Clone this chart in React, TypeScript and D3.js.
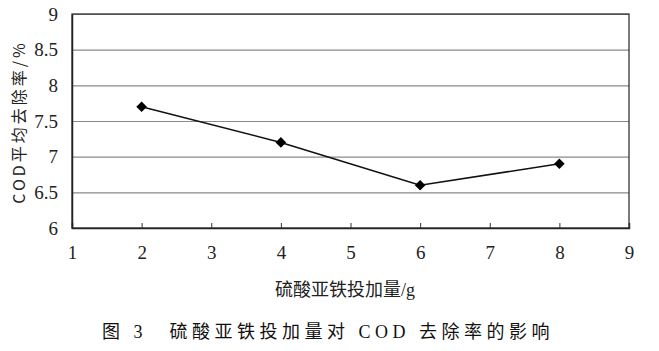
import { useEffect, useRef } from 'react'
import * as d3 from 'd3'

const doses = [2, 4, 6, 8]
const removal = [7.7, 7.2, 6.6, 6.9]
const xTicks = [1, 2, 3, 4, 5, 6, 7, 8, 9]
const yTicks = [6, 6.5, 7, 7.5, 8, 8.5, 9]
const xTitle = '硫酸亚铁投加量/g'
const yTitle = 'COD平均去除率/%'
const caption = '图 3　硫酸亚铁投加量对 COD 去除率的影响'

export default function App() {
  const svgRef = useRef<SVGSVGElement>(null)

  useEffect(() => {
    const W = 659
    const H = 351
    const margin = { top: 14, right: 30, bottom: 123, left: 72 }
    const innerW = W - margin.left - margin.right
    const innerH = H - margin.top - margin.bottom

    const x = d3.scaleLinear().domain([1, 9]).range([0, innerW])
    const y = d3.scaleLinear().domain([6, 9]).range([innerH, 0])

    const svg = d3.select(svgRef.current)
    svg.selectAll('*').remove()
    svg.attr('width', W).attr('height', H)

    const g = svg.append('g').attr('transform', `translate(${margin.left},${margin.top})`)
    const numFont = "'Liberation Serif', 'Times New Roman', 'DejaVu Serif', serif"
    const cjkFont = "'Noto Sans CJK SC', sans-serif"

    // grid
    g.append('g')
      .call(d3.axisLeft(y).tickValues(yTicks).tickSize(-innerW).tickFormat(() => ''))
      .call((s) => s.select('.domain').remove())
      .call((s) => s.selectAll('.tick line').attr('stroke', '#8a8a8a').attr('stroke-width', 1.2))

    // frame
    g.append('rect')
      .attr('width', innerW)
      .attr('height', innerH)
      .attr('fill', 'none')
      .attr('stroke', '#333')
      .attr('stroke-width', 1.3)

    // x axis
    const xg = g.append('g')
      .attr('transform', `translate(0,${innerH})`)
      .call(d3.axisBottom(x).tickValues(xTicks).tickSize(-5).tickPadding(18).tickFormat(d3.format('d')))
    xg.attr('font-family', numFont).attr('font-size', 19)
    xg.select('.domain').attr('stroke', '#222').attr('stroke-width', 1.5)
    xg.selectAll('.tick line').attr('stroke', '#333')
    xg.selectAll('text').attr('fill', '#222')

    // y axis
    const yg = g.append('g')
      .call(d3.axisLeft(y).tickValues(yTicks).tickSize(0).tickPadding(14).tickFormat((d) => String(d)))
    yg.attr('font-family', numFont).attr('font-size', 19)
    yg.select('.domain').attr('stroke', '#222').attr('stroke-width', 1.5)
    yg.selectAll('text').attr('fill', '#222')

    const line = d3.line<number>()
      .x((_, i) => x(doses[i]))
      .y((d) => y(d))

    g.append('path')
      .datum(removal)
      .attr('fill', 'none')
      .attr('stroke', '#111')
      .attr('stroke-width', 1.6)
      .attr('d', line)

    g.selectAll('.pt')
      .data(removal)
      .join('path')
      .attr('class', 'pt')
      .attr('transform', (d, i) => `translate(${x(doses[i])},${y(d)}) rotate(45)`)
      .attr('d', d3.symbol(d3.symbolSquare, 56)())
      .attr('fill', '#000')

    svg.append('text')
      .attr('x', 345)
      .attr('y', 296)
      .attr('text-anchor', 'middle')
      .attr('font-family', "'Liberation Serif', 'Noto Sans CJK SC', serif")
      .attr('font-size', 18)
      .attr('fill', '#222')
      .text(xTitle)

    svg.append('text')
      .attr('transform', `translate(25,${margin.top + innerH / 2 + 1}) rotate(-90)`)
      .attr('text-anchor', 'middle')
      .attr('font-family', cjkFont)
      .attr('font-size', 16)
      .attr('letter-spacing', 3)
      .attr('fill', '#222')
      .text(yTitle)

    svg.append('text')
      .attr('x', 328)
      .attr('y', 338)
      .attr('text-anchor', 'middle')
      .attr('font-family', "'Liberation Serif', 'Noto Sans CJK SC', serif")
      .attr('font-size', 18)
      .attr('letter-spacing', 4.5)
      .attr('fill', '#111')
      .text(caption)
  }, [])

  return (
    <div style={{ position: 'absolute', left: 0, top: 0 }}>
      <svg ref={svgRef} />
    </div>
  )
}
